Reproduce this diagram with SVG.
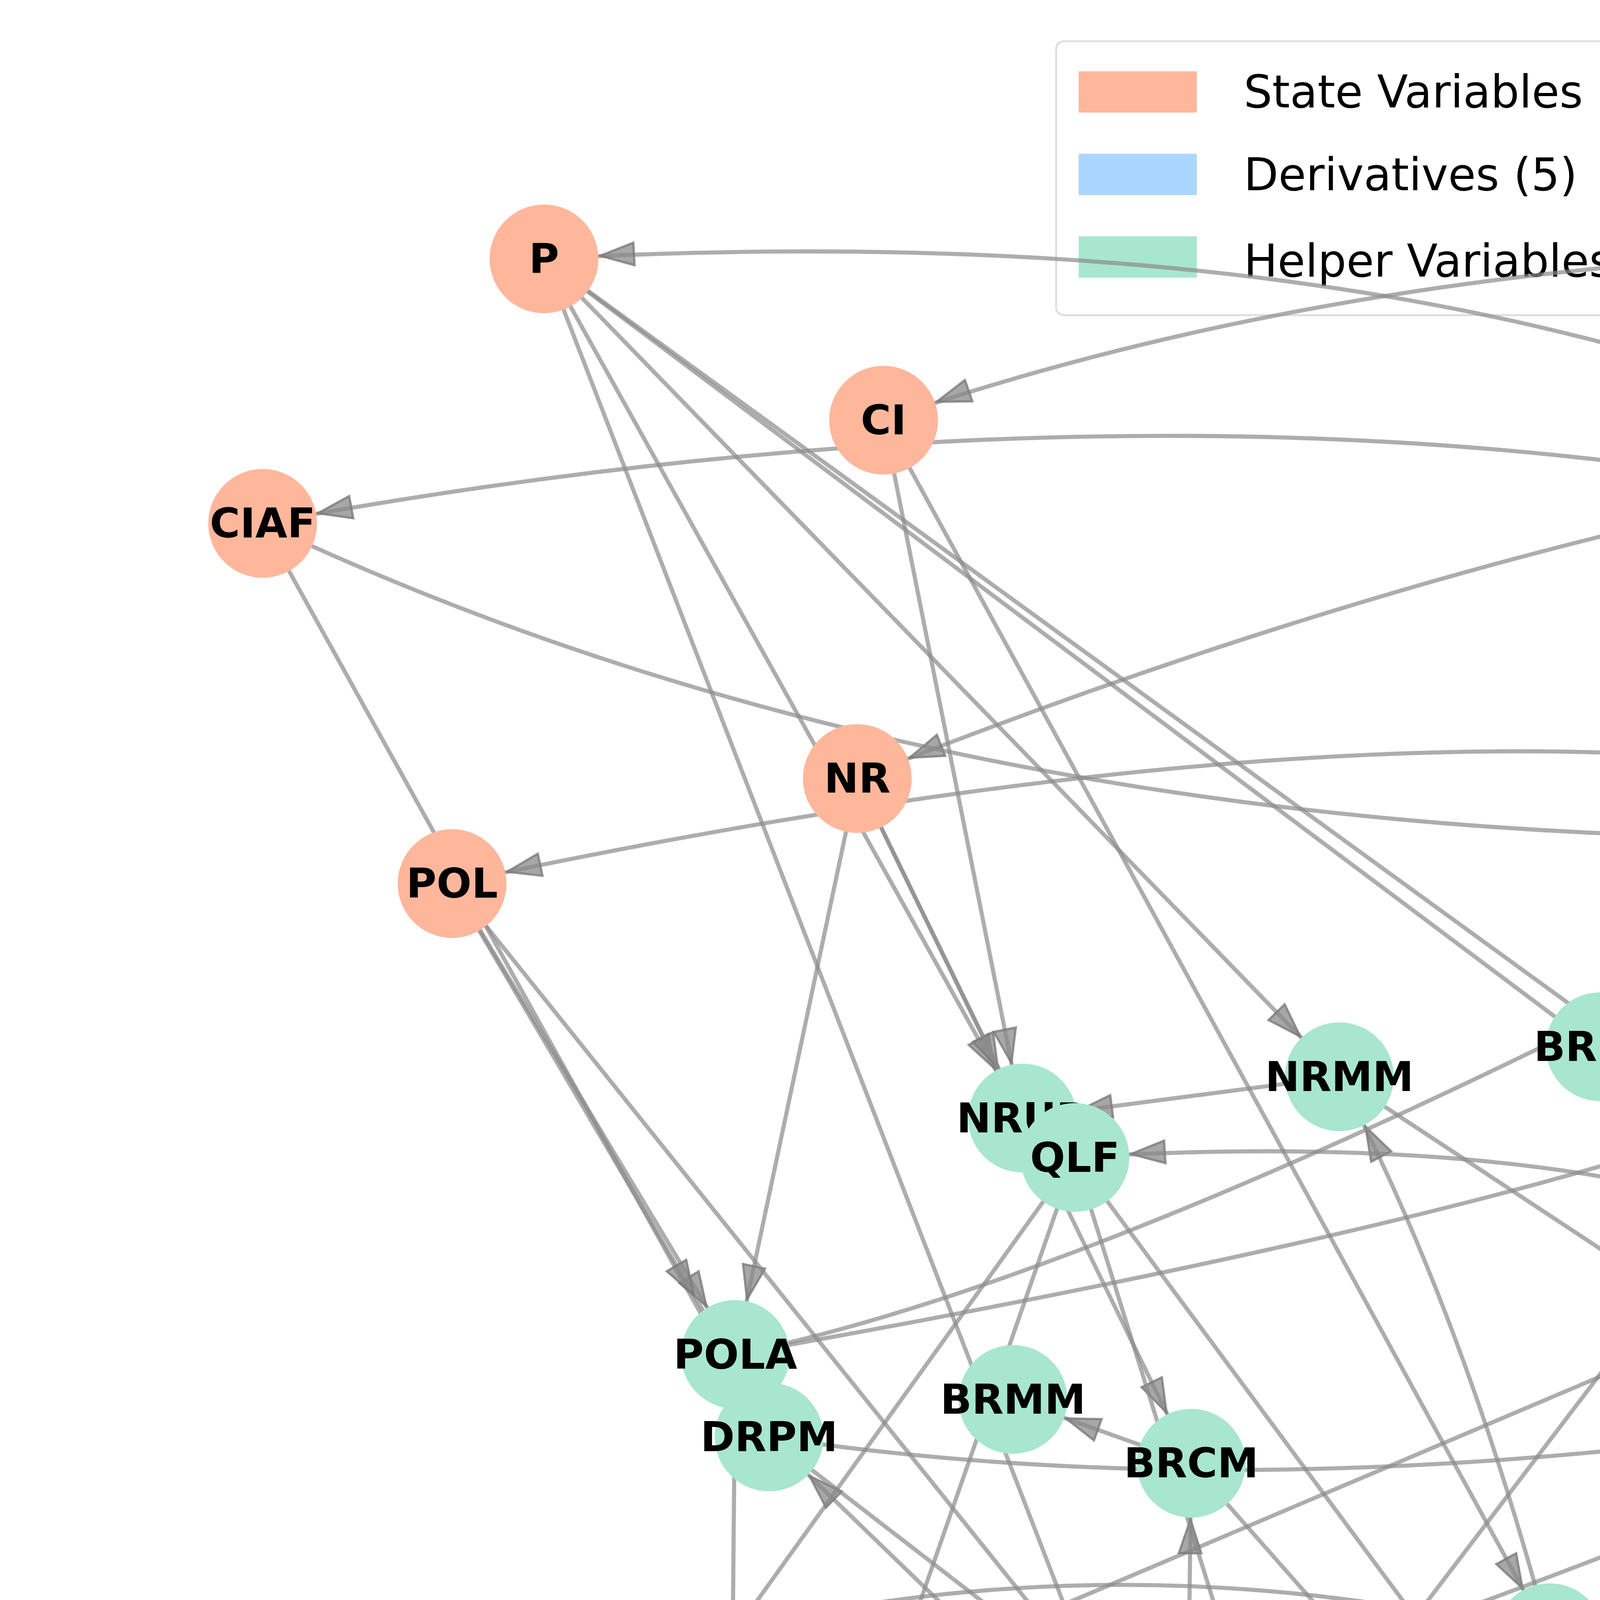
<svg xmlns="http://www.w3.org/2000/svg" width="7530" height="7530" viewBox="0 0 7530 7530">
<style>
.e{fill:none;stroke:#8a8a8a;stroke-opacity:0.7;stroke-width:2.2;marker-end:url(#a)}
.s{fill:#FFB79C}.d{fill:#A9D6FF}.h{fill:#A8E6CF}
text{font-family:"DejaVu Sans",sans-serif;font-weight:bold;font-size:22px;text-anchor:middle;dominant-baseline:central;fill:#000}
.lg{font-weight:normal;font-size:24px;text-anchor:start}
</style>
<defs><marker id="a" markerUnits="userSpaceOnUse" viewBox="0 0 20 14" markerWidth="20" markerHeight="14" refX="49" refY="7" orient="auto"><path d="M1,1L19,7L1,13z" fill="#8a8a8a" fill-opacity="0.75" stroke="#7a7a7a" stroke-opacity="0.8" stroke-width="1.2"/></marker></defs>
<rect width="7530" height="7530" fill="#fff"/>
<g transform="scale(4.8023)">
<g id="legend">
<rect x="563" y="22" width="442" height="146" rx="4" fill="#fff" fill-opacity="0.8" stroke="#ddd"/>
<rect x="575" y="38" width="63" height="22" class="s"/><text class="lg" x="663" y="49">State Variables (5)</text>
<rect x="575" y="82" width="63" height="22" class="d"/><text class="lg" x="663" y="93">Derivatives (5)</text>
<rect x="575" y="126" width="63" height="22" class="h"/><text class="lg" x="663" y="139">Helper Variables (40)</text>
</g>
<g id="edges">
<path class="e" d="M1245,138Q800,110 471,224"/>
<path class="e" d="M1096,279Q800,110 290,138"/>
<path class="e" d="M1426,224Q1000,200 457,415"/>
<path class="e" d="M1412,415Q900,140 140,279"/>
<path class="e" d="M140,279Q650,520 1412,415"/>
<path class="e" d="M1197,471Q900,330 241,471"/>
<path class="e" d="M290,138L545,596"/>
<path class="e" d="M290,138L632,1023"/>
<path class="e" d="M290,138L1001,671"/>
<path class="e" d="M290,138L890,574"/>
<path class="e" d="M290,138L714,574"/>
<path class="e" d="M471,224L545,596"/>
<path class="e" d="M471,224L826,873"/>
<path class="e" d="M140,279L410,766"/>
<path class="e" d="M457,415L545,596"/>
<path class="e" d="M457,415L392,722"/>
<path class="e" d="M457,415L635,780"/>
<path class="e" d="M241,471L392,722"/>
<path class="e" d="M246,480L385,716"/>
<path class="e" d="M241,471L710,1056"/>
<path class="e" d="M714,574L545,596"/>
<path class="e" d="M714,574L1222,909"/>
<path class="e" d="M826,873Q780,700 714,574"/>
<path class="e" d="M890,574L1245,138"/>
<path class="e" d="M966,584L1197,471"/>
<path class="e" d="M966,584L1001,671"/>
<path class="e" d="M853,558L1047,1110"/>
<path class="e" d="M1001,671Q850,600 573,617"/>
<path class="e" d="M1001,671L1137,716"/>
<path class="e" d="M1137,716L1001,671"/>
<path class="e" d="M1001,671L1412,415"/>
<path class="e" d="M1001,671L1160,842"/>
<path class="e" d="M1001,671L890,574"/>
<path class="e" d="M392,722Q700,660 1426,224"/>
<path class="e" d="M392,722Q800,650 966,584"/>
<path class="e" d="M1137,716L1096,279"/>
<path class="e" d="M1137,716L1197,471"/>
<path class="e" d="M1197,471L1245,138"/>
<path class="e" d="M410,766Q700,810 1068,744"/>
<path class="e" d="M1068,744L1137,716"/>
<path class="e" d="M1205,780L1412,415"/>
<path class="e" d="M1205,780L1137,716"/>
<path class="e" d="M1160,842L1205,780"/>
<path class="e" d="M1222,909Q1250,700 1197,471"/>
<path class="e" d="M1228,1047L1137,716"/>
<path class="e" d="M826,873Q570,810 320,888"/>
<path class="e" d="M320,888L330,956"/>
<path class="e" d="M330,956L1001,671"/>
<path class="e" d="M330,1008Q700,900 1137,716"/>
<path class="e" d="M330,1008L388,1148"/>
<path class="e" d="M632,1023Q500,995 330,1008"/>
<path class="e" d="M632,1023L635,780"/>
<path class="e" d="M632,1023L966,584"/>
<path class="e" d="M635,780L540,746"/>
<path class="e" d="M573,617L330,956"/>
<path class="e" d="M573,617L388,1148"/>
<path class="e" d="M573,617L710,1056"/>
<path class="e" d="M573,617L957,1136"/>
<path class="e" d="M392,722L388,1148"/>
<path class="e" d="M388,1148L391,1241"/>
<path class="e" d="M391,1241L472,1323"/>
<path class="e" d="M472,1323L554,1372"/>
<path class="e" d="M957,1136Q650,1080 388,1148"/>
<path class="e" d="M957,1136L1205,1150"/>
<path class="e" d="M957,1136L554,1372"/>
<path class="e" d="M957,1136L854,1386"/>
<path class="e" d="M957,1136L1137,716"/>
<path class="e" d="M716,1273L388,1148"/>
<path class="e" d="M716,1273Q630,1300 554,1372"/>
<path class="e" d="M716,1273L1001,671"/>
<path class="e" d="M554,1372L826,873"/>
<path class="e" d="M826,873L1047,1110"/>
<path class="e" d="M826,873L1228,1047"/>
<path class="e" d="M710,1056L1068,744"/>
<path class="e" d="M710,1056L847,1290"/>
<path class="e" d="M710,1056L1076,1280"/>
<path class="e" d="M710,1056L957,1136"/>
<path class="e" d="M710,1056L410,766"/>
<path class="e" d="M710,1056L854,1386"/>
<path class="e" d="M1047,1110L1187,1182"/>
<path class="e" d="M1047,1110L1137,716"/>
<path class="e" d="M1047,1110L1119,1278"/>
<path class="e" d="M1047,1110L716,1273"/>
<path class="e" d="M1047,1110L854,1386"/>
<path class="e" d="M410,766L1076,1280"/>
<path class="e" d="M635,780L1076,1280"/>
<path class="e" d="M1068,744L1076,1280"/>
<path class="e" d="M1119,1278L1137,716"/>
<path class="e" d="M1076,1280L1137,716"/>
<path class="e" d="M847,1290L970,1387"/>
<path class="e" d="M847,1290L759,1426"/>
<path class="e" d="M876,1424L1222,909"/>
<path class="e" d="M876,1424L1137,716"/>
<path class="e" d="M1187,1182L890,574"/>
</g>
<g id="nodes">
<g id="P"><circle cx="290" cy="138" r="29" class="s"/><text x="290" y="138">P</text></g>
<g id="CI"><circle cx="471" cy="224" r="29" class="s"/><text x="471" y="224">CI</text></g>
<g id="CIAF"><circle cx="140" cy="279" r="29" class="s"/><text x="140" y="279">CIAF</text></g>
<g id="NR"><circle cx="457" cy="415" r="29" class="s"/><text x="457" y="415">NR</text></g>
<g id="POL"><circle cx="241" cy="471" r="29" class="s"/><text x="241" y="471">POL</text></g>
<g id="dCI"><circle cx="1245" cy="138" r="29" class="d"/><text x="1245" y="138">dCI</text></g>
<g id="dNR"><circle cx="1426" cy="224" r="29" class="d"/><text x="1426" y="224">dNR</text></g>
<g id="dP"><circle cx="1096" cy="279" r="29" class="d"/><text x="1096" y="279">dP</text></g>
<g id="dCIAF"><circle cx="1412" cy="415" r="29" class="d"/><text x="1412" y="415">dCIAF</text></g>
<g id="dPOL"><circle cx="1197" cy="471" r="29" class="d"/><text x="1197" y="471">dPOL</text></g>
<g id="BRFM"><circle cx="853" cy="558" r="29" class="h"/><text x="853" y="558">BRFM</text></g>
<g id="CIG"><circle cx="890" cy="574" r="29" class="h"/><text x="890" y="574">CIG</text></g>
<g id="NRMM"><circle cx="714" cy="574" r="29" class="h"/><text x="714" y="574">NRMM</text></g>
<g id="FCM"><circle cx="966" cy="584" r="29" class="h"/><text x="966" y="584">FCM</text></g>
<g id="NRUR"><circle cx="545" cy="596" r="29" class="h"/><text x="545" y="596">NRUR</text></g>
<g id="QLF"><circle cx="573" cy="617" r="29" class="h"/><text x="573" y="617">QLF</text></g>
<g id="FR"><circle cx="1001" cy="671" r="29" class="h"/><text x="1001" y="671">FR</text></g>
<g id="DR"><circle cx="1137" cy="716" r="29" class="h"/><text x="1137" y="716">DR</text></g>
<g id="POLA"><circle cx="392" cy="722" r="29" class="h"/><text x="392" y="722">POLA</text></g>
<g id="BRPM"><circle cx="1068" cy="744" r="29" class="h"/><text x="1068" y="744">BRPM</text></g>
<g id="BRMM"><circle cx="540" cy="746" r="29" class="h"/><text x="540" y="746">BRMM</text></g>
<g id="DRPM"><circle cx="410" cy="766" r="29" class="h"/><text x="410" y="766">DRPM</text></g>
<g id="BRCM"><circle cx="635" cy="780" r="29" class="h"/><text x="635" y="780">BRCM</text></g>
<g id="FPCI"><circle cx="1205" cy="780" r="29" class="h"/><text x="1205" y="780">FPCI</text></g>
<g id="CFIFR"><circle cx="1160" cy="842" r="29" class="h"/><text x="1160" y="842">CFIFR</text></g>
<g id="MSL"><circle cx="826" cy="873" r="29" class="h"/><text x="826" y="873">MSL</text></g>
<g id="QLM"><circle cx="320" cy="888" r="29" class="h"/><text x="320" y="888">QLM</text></g>
<g id="POLG"><circle cx="1222" cy="909" r="29" class="h"/><text x="1222" y="909">POLG</text></g>
<g id="CIQR"><circle cx="330" cy="956" r="29" class="h"/><text x="330" y="956">CIQR</text></g>
<g id="FPM"><circle cx="330" cy="1008" r="29" class="h"/><text x="330" y="1008">FPM</text></g>
<g id="CR"><circle cx="632" cy="1023" r="29" class="h"/><text x="632" y="1023">CR</text></g>
<g id="DRMM"><circle cx="1228" cy="1047" r="29" class="h"/><text x="1228" y="1047">DRMM</text></g>
<g id="POLR"><circle cx="710" cy="1056" r="29" class="h"/><text x="710" y="1056">POLR</text></g>
<g id="CIR"><circle cx="1047" cy="1110" r="29" class="h"/><text x="1047" y="1110">CIR</text></g>
<g id="CIAF_current"><circle cx="957" cy="1136" r="29" class="h"/><text x="957" y="1136">CIAF_current</text></g>
<g id="QL"><circle cx="388" cy="1148" r="29" class="h"/><text x="388" y="1148">QL</text></g>
<g id="QLC"><circle cx="1205" cy="1150" r="29" class="h"/><text x="1205" y="1150">QLC</text></g>
<g id="CIM"><circle cx="1187" cy="1182" r="29" class="h"/><text x="1187" y="1182">CIM</text></g>
<g id="NRFR"><circle cx="391" cy="1241" r="29" class="h"/><text x="391" y="1241">NRFR</text></g>
<g id="DRFM"><circle cx="716" cy="1273" r="29" class="h"/><text x="716" y="1273">DRFM</text></g>
<g id="DRCM"><circle cx="1076" cy="1280" r="29" class="h"/><text x="1076" y="1280">DRCM</text></g>
<g id="BR"><circle cx="1119" cy="1278" r="29" class="h"/><text x="1119" y="1278">BR</text></g>
<g id="POLAT"><circle cx="847" cy="1290" r="29" class="h"/><text x="847" y="1290">POLAT</text></g>
<g id="NREM"><circle cx="472" cy="1323" r="29" class="h"/><text x="472" y="1323">NREM</text></g>
<g id="ECIR"><circle cx="554" cy="1372" r="29" class="h"/><text x="554" y="1372">ECIR</text></g>
<g id="QLP"><circle cx="970" cy="1387" r="29" class="h"/><text x="970" y="1387">QLP</text></g>
<g id="CIRA"><circle cx="854" cy="1386" r="29" class="h"/><text x="854" y="1386">CIRA</text></g>
<g id="CID"><circle cx="876" cy="1424" r="29" class="h"/><text x="876" y="1424">CID</text></g>
<g id="POLCM"><circle cx="759" cy="1426" r="29" class="h"/><text x="759" y="1426">POLCM</text></g>
</g>
</g>
</svg>
